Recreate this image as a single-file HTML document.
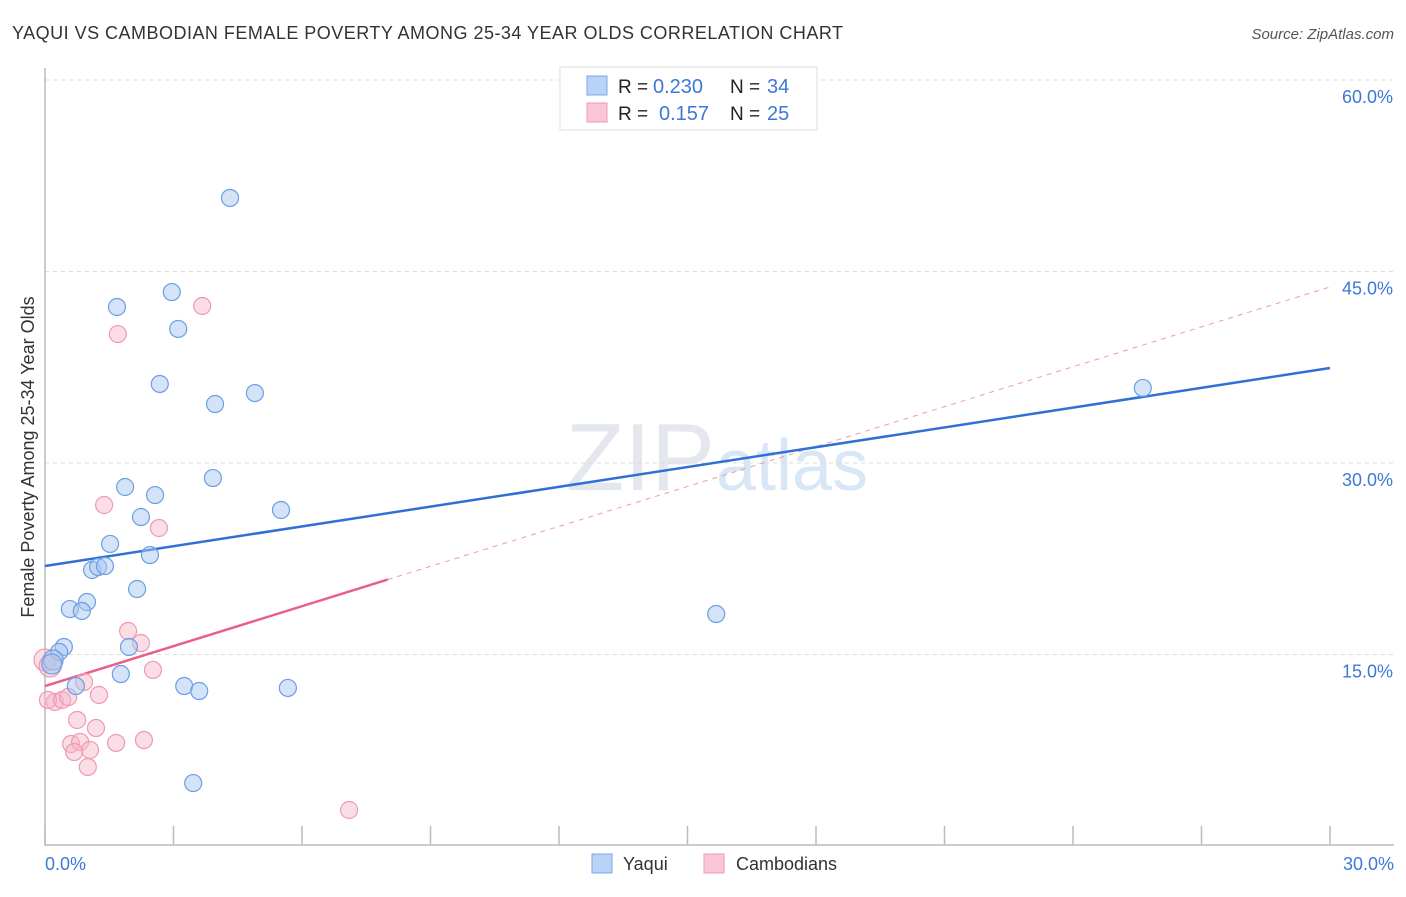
<!DOCTYPE html>
<html><head><meta charset="utf-8"><style>
body{margin:0;background:#fff;font-family:"Liberation Sans",sans-serif}
svg text{font-family:"Liberation Sans",sans-serif}
</style></head><body>
<svg id="chart" width="1406" height="892" xmlns="http://www.w3.org/2000/svg">
<text x="12" y="39" font-size="18" fill="#333" textLength="831">YAQUI VS CAMBODIAN FEMALE POVERTY AMONG 25-34 YEAR OLDS CORRELATION CHART</text>
<text x="1394" y="39" font-size="15" fill="#555" font-style="italic" text-anchor="end">Source: ZipAtlas.com</text>
<text x="715" y="490" font-size="96" fill="#e4e8ee" text-anchor="end" font-family="Liberation Serif">ZIP</text>
<text x="716" y="490" font-size="72" fill="#d8e6f6">atlas</text>
<g id="grid"></g>
<g id="axes"></g>
<g id="lines"></g>
<g id="points"></g>
<text transform="translate(34,457) rotate(-90)" font-size="18" fill="#333" text-anchor="middle">Female Poverty Among 25-34 Year Olds</text>
<g>
<rect x="560" y="67" width="257" height="63" fill="#fff" stroke="#ddd"/>
<rect x="587" y="76" width="20" height="19" fill="#b8d3f5" stroke="#7aa8e6"/>
<rect x="587" y="103" width="20" height="19" fill="#f9c6d6" stroke="#ee9ab3"/>
<text x="618" y="93" font-size="19" fill="#222">R =</text>
<text x="653" y="93" font-size="20" fill="#3b78d8">0.230</text>
<text x="730" y="93" font-size="19" fill="#222">N =</text>
<text x="767" y="93" font-size="20" fill="#3b78d8">34</text>
<text x="618" y="120" font-size="19" fill="#222">R =</text>
<text x="659" y="120" font-size="20" fill="#3b78d8">0.157</text>
<text x="730" y="120" font-size="19" fill="#222">N =</text>
<text x="767" y="120" font-size="20" fill="#3b78d8">25</text>
</g>
<g>
<rect x="592" y="854" width="20" height="19" fill="#b8d3f5" stroke="#7aa8e6"/>
<text x="623" y="870" font-size="18" fill="#333">Yaqui</text>
<rect x="704" y="854" width="20" height="19" fill="#f9c6d6" stroke="#ee9ab3"/>
<text x="736" y="870" font-size="18" fill="#333">Cambodians</text>
</g>
</svg>
<script>
const yTicks=[15,30,45,60];
const yTickLabels=["15.0%","30.0%","45.0%","60.0%"];
const xTickVals=[0,3,6,9,12,15,18,21,24,27,30];
const yaquiX=[4.32,1.68,2.96,3.11,2.68,3.97,4.90,3.92,1.87,2.57,2.24,5.51,1.52,2.45,1.10,1.24,1.40,2.15,0.98,0.58,0.86,0.44,0.33,1.96,0.19,0.16,1.77,3.25,3.60,0.72,5.67,3.46,15.67,25.63];
const yaquiY=[50.76,42.22,43.39,40.50,36.19,34.62,35.48,28.82,28.12,27.49,25.77,26.32,23.66,22.79,21.62,21.85,21.93,20.13,19.11,18.56,18.41,15.59,15.20,15.59,14.57,14.26,13.47,12.53,12.14,12.53,12.38,4.93,18.17,35.88];
const cambX=[3.67,1.70,1.38,2.66,1.94,2.24,2.52,0.91,1.26,0.23,0.07,0.40,0.54,0.75,1.19,0.61,0.82,1.05,0.68,1.00,1.66,2.31,7.10,0.0,0.12];
const cambY=[42.30,40.10,26.71,24.91,16.84,15.90,13.79,12.85,11.83,11.28,11.44,11.44,11.67,9.87,9.24,7.99,8.15,7.52,7.36,6.19,8.07,8.30,2.82,14.57,14.10];
const yaquiTrend=[21.93,37.44];
const cambTrend=[12.53,43.79];
const cambSolidEnd=8.0;
const NS="http://www.w3.org/2000/svg";
const X0=45,X1=1330,Y0=846,Y60=80;
const sx=v=>X0+(v/30)*(X1-X0);
const sy=v=>Y0-(v/60)*(Y0-Y60);
function mk(tag,attrs,parent){const e=document.createElementNS(NS,tag);for(const k in attrs)e.setAttribute(k,attrs[k]);document.getElementById(parent).appendChild(e);return e;}
yTicks.forEach((t,i)=>{
 const l=mk('line',{x1:X0,x2:1394,y1:sy(t),y2:sy(t),stroke:'#ddd','stroke-dasharray':'4,4'},'grid');
 
 
 const tx=mk('text',{x:1393,y:sy(t)+23,'font-size':18,fill:'#3b78d8','text-anchor':'end'},'grid');
 tx.textContent=yTickLabels[i];
 
 
});
const ya=mk('line',{x1:X0,x2:X0,y1:68,y2:Y0,stroke:'#bbb','stroke-width':1.5},'axes');


const xa=mk('line',{x1:X0,x2:1394,y1:845,y2:845,stroke:'#bbb','stroke-width':1.5},'axes');


xTickVals.forEach(t=>{
 const l=mk('line',{x1:sx(t),x2:sx(t),y1:826,y2:845,stroke:'#bbb','stroke-width':1.5},'axes');
 
 
});
[[0,'0.0%',45,'start'],[30,'30.0%',1394,'end']].forEach(a=>{
 const t=mk('text',{x:a[2],y:870,'font-size':18,fill:'#3b78d8','text-anchor':a[3]},'axes');
 t.textContent=a[1];
 
 
});
const cy=v=>cambTrend[0]+(cambTrend[1]-cambTrend[0])*v/30;
let l=mk('line',{x1:sx(cambSolidEnd),y1:sy(cy(cambSolidEnd)),x2:sx(30),y2:sy(cambTrend[1]),stroke:'#ee9ab3','stroke-width':1,'stroke-dasharray':'5,5'},'lines');


l=mk('line',{x1:sx(0),y1:sy(cambTrend[0]),x2:sx(cambSolidEnd),y2:sy(cy(cambSolidEnd)),stroke:'#e8608a','stroke-width':2.5},'lines');


l=mk('line',{x1:sx(0),y1:sy(yaquiTrend[0]),x2:sx(30),y2:sy(yaquiTrend[1]),stroke:'#2f6fd6','stroke-width':2.5},'lines');


cambX.forEach((x,i)=>{
 const c=mk('circle',{cx:sx(x),cy:sy(cambY[i]),r:i>=23?11:8.5,fill:'rgba(246,180,200,0.45)',stroke:'#ee9ab3','stroke-width':1.2},'points');
 
 
});
yaquiX.forEach((x,i)=>{
 const c=mk('circle',{cx:sx(x),cy:sy(yaquiY[i]),r:(i==24||i==25)?10:8.5,fill:'rgba(170,200,240,0.5)',stroke:'#6a9fe3','stroke-width':1.2},'points');
 
 
});
</script>
</body></html>
